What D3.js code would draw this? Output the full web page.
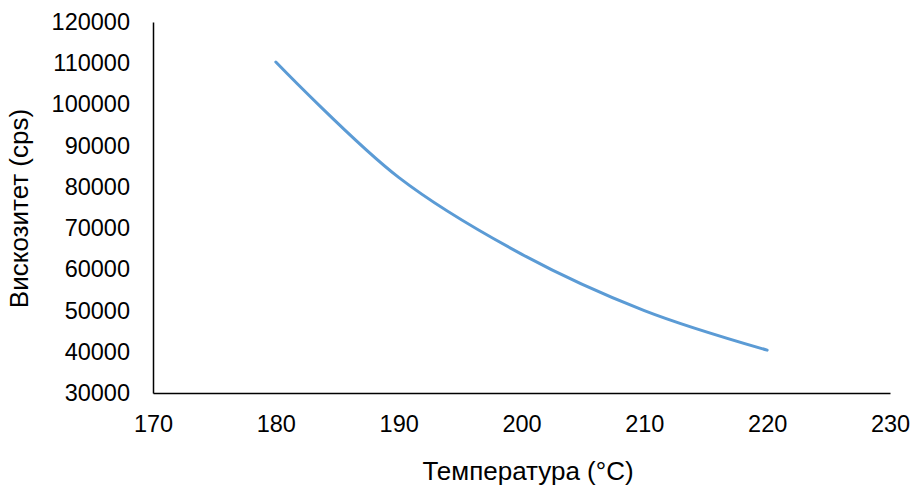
<!DOCTYPE html>
<html>
<head>
<meta charset="utf-8">
<script src="https://cdn.jsdelivr.net/npm/d3@7"></script>
<style>
  body { margin: 0; background: #fff; }
  text { font-family: "Liberation Sans", Arial, sans-serif; fill: #000; }
</style>
</head>
<body>
<div id="chart"></div>
<script>
// data
const temps = [180, 190, 200, 210, 220]
const viscosity = [110300, 82300, 63700, 50000, 40400]
const xTicks = [170, 180, 190, 200, 210, 220, 230]
const yTicks = [30000, 40000, 50000, 60000, 70000, 80000, 90000, 100000, 110000, 120000]

const width = 912
const height = 485
const margin = {top: 22, right: 22, bottom: 92, left: 153}

const svg = d3.select("#chart")
    .append("svg")
    .attr("width", width)
    .attr("height", height)

const x = d3.scaleLinear().domain([170, 230]).range([margin.left, width - margin.right])
const y = d3.scaleLinear().domain([30000, 120000]).range([height - margin.bottom, margin.top])

// x axis
const xAxis = svg.append("g")
    .attr("transform", `translate(0,${height - margin.bottom})`)
    .call(d3.axisBottom(x).tickValues(xTicks).tickSize(0).tickPadding(22))
xAxis.select(".domain").attr("stroke", "#000").attr("stroke-width", 1.5)
xAxis.selectAll("text").attr("font-size", 23.5).attr("font-family", "Liberation Sans, Arial, sans-serif")

// y axis
const yAxis = svg.append("g")
    .attr("transform", `translate(${margin.left},0)`)
    .call(d3.axisLeft(y).tickValues(yTicks).tickSize(0).tickPadding(23).tickFormat(d3.format("d")))
yAxis.select(".domain").attr("stroke", "#000").attr("stroke-width", 1.5)
yAxis.selectAll("text").attr("font-size", 23.5).attr("font-family", "Liberation Sans, Arial, sans-serif")

// the curve
const line = d3.line()
    .x((d, i) => x(temps[i]))
    .y(d => y(d))
    .curve(d3.curveCatmullRom.alpha(0.5))

svg.append("path")
    .datum(viscosity)
    .attr("fill", "none")
    .attr("stroke", "#5B9BD5")
    .attr("stroke-width", 3)
    .attr("stroke-linecap", "round")
    .attr("d", line)

// axis titles
svg.append("text")
    .attr("x", 528)
    .attr("y", 480)
    .attr("text-anchor", "middle")
    .attr("font-size", 26)
    .text("Температура (°C)")

svg.append("text")
    .attr("transform", `translate(28,${(margin.top + height - margin.bottom) / 2 + 1}) rotate(-90)`)
    .attr("text-anchor", "middle")
    .attr("font-size", 26)
    .text("Вискозитет (cps)")
</script>
</body>
</html>
